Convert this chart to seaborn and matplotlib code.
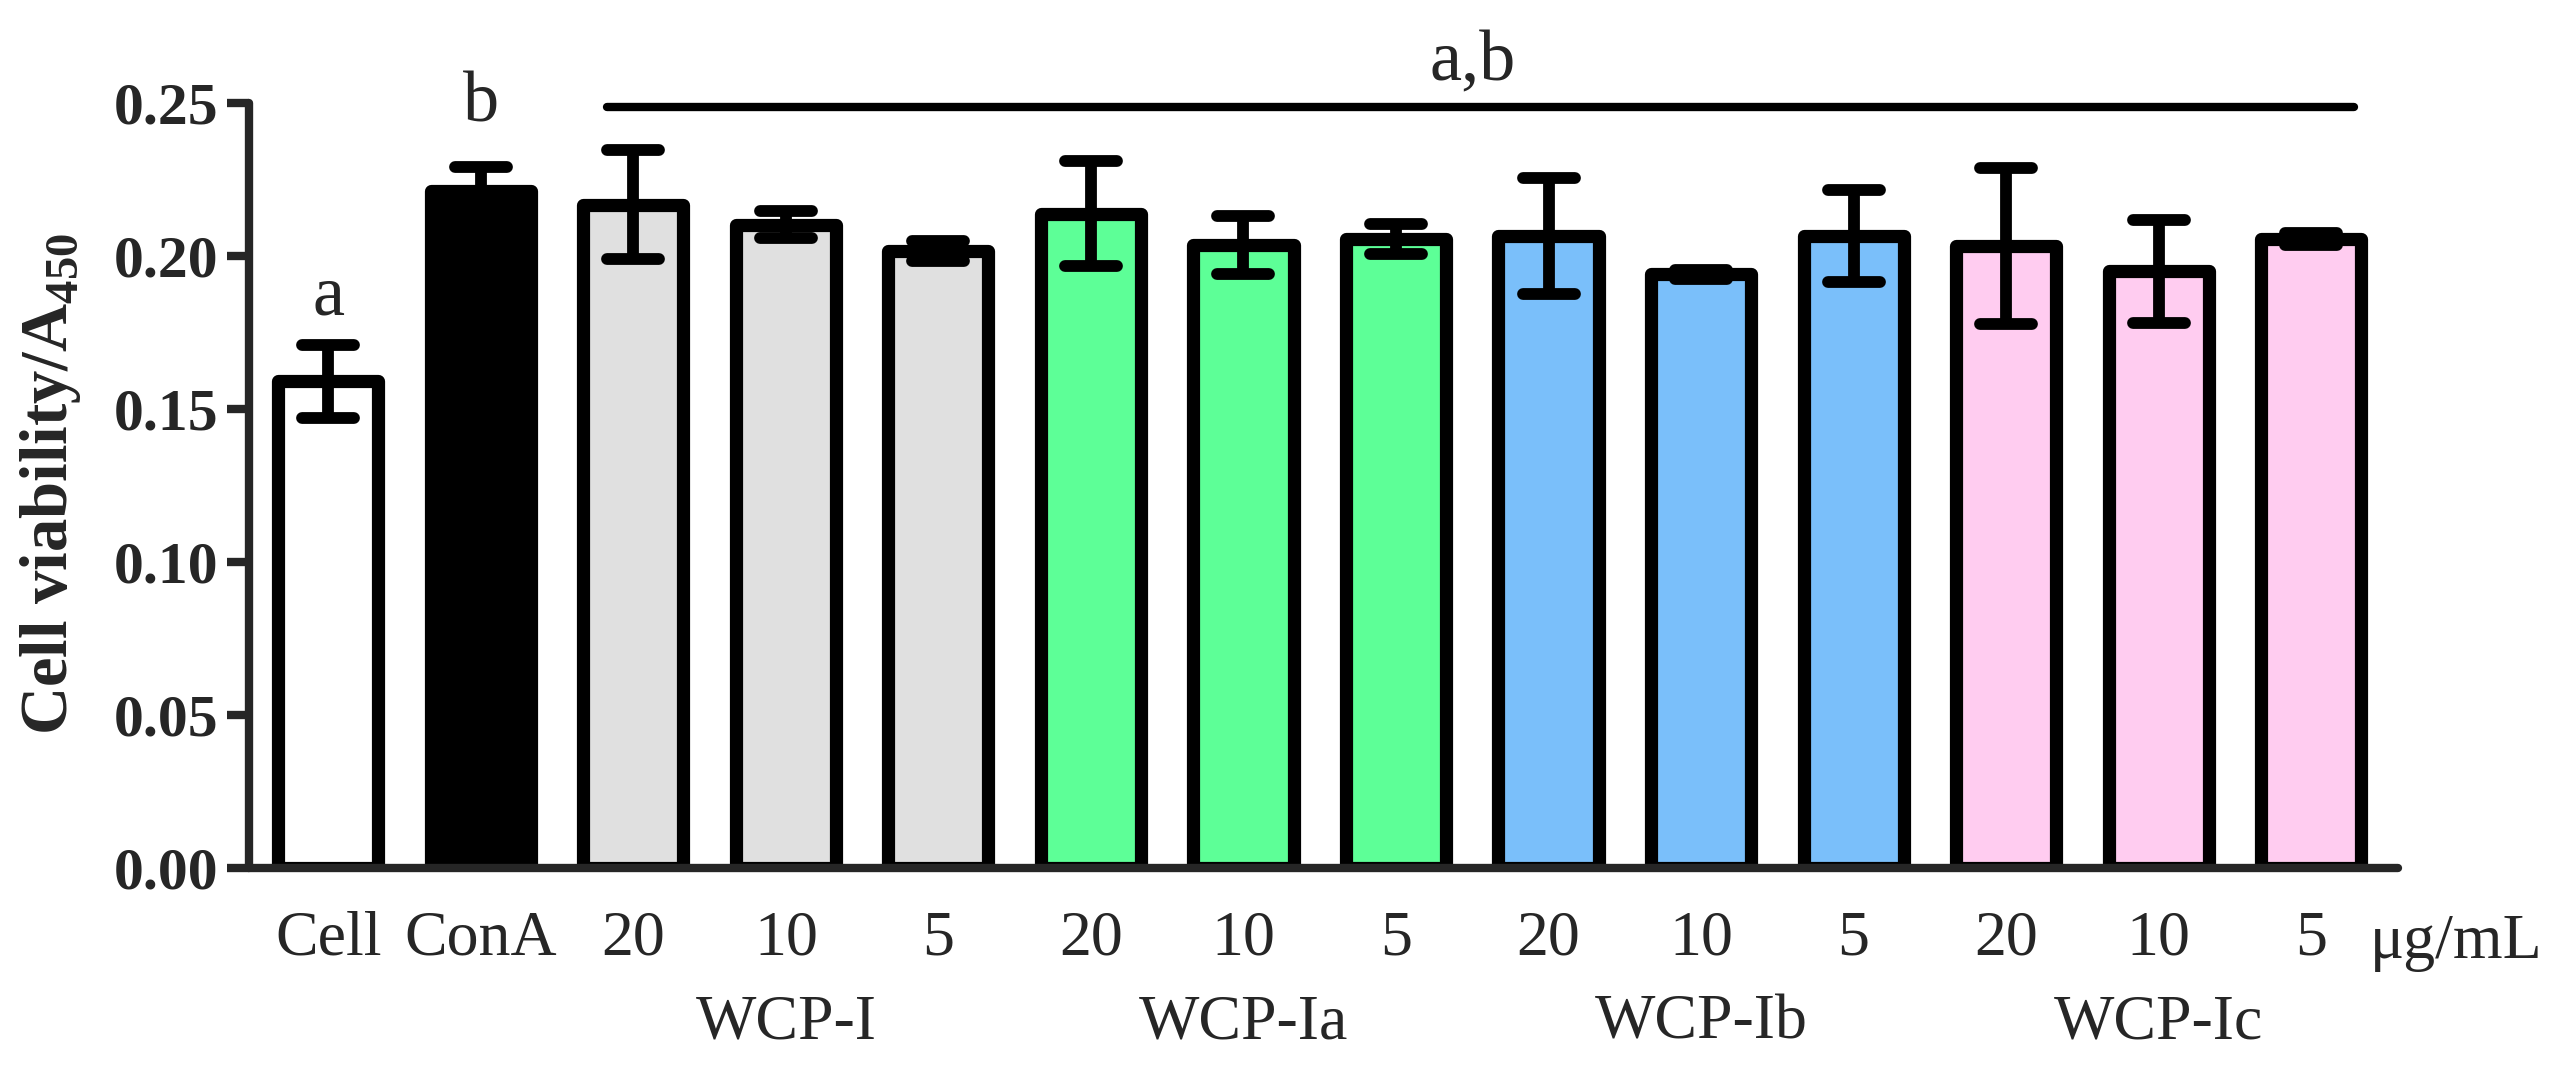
import numpy as np
import pandas as pd
import matplotlib
matplotlib.use("Agg")
import matplotlib.pyplot as plt
import matplotlib.transforms as mtransforms
from matplotlib.markers import MarkerStyle
import seaborn as sns

# values
bar_ids = ["Cell", "ConA", "I-20", "I-10", "I-5", "Ia-20", "Ia-10", "Ia-5",
           "Ib-20", "Ib-10", "Ib-5", "Ic-20", "Ic-10", "Ic-5"]
tick_labels = ["Cell", "ConA", "20", "10", "5", "20", "10", "5",
               "20", "10", "5", "20", "10", "5"]
means = [0.159, 0.2212, 0.2168, 0.2103, 0.2016, 0.2138, 0.2036, 0.2055,
         0.2065, 0.1940, 0.2065, 0.2033, 0.1950, 0.2055]
errs = [0.0120, 0.0080, 0.0178, 0.0043, 0.0032, 0.0172, 0.0095, 0.0050,
        0.0190, 0.0015, 0.0150, 0.0255, 0.0168, 0.0020]
colors = ["#FFFFFF", "#000000", "#E0E0E0", "#E0E0E0", "#E0E0E0",
          "#5DFF97", "#5DFF97", "#5DFF97", "#7ABFFA", "#7ABFFA", "#7ABFFA",
          "#FFCCF0", "#FFCCF0", "#FFCCF0"]
groups = ["WCP-I", "WCP-Ia", "WCP-Ib", "WCP-Ic"]
group_centers = [3, 6, 9, 12]
letters = ["a", "b", "a,b"]
letter_x = [0, 1, 7.5]
letter_y = [0.181, 0.2441, 0.2575]
line_span = [1.826, 13.28]

df = pd.DataFrame({"bar": bar_ids, "mean": means, "err": errs})

sns.set_style("ticks")
plt.rcParams["font.family"] = ["Liberation Serif", "DejaVu Serif"]
plt.rcParams["mathtext.fontset"] = "custom"
plt.rcParams["mathtext.bf"] = "Liberation Serif:bold"
plt.rcParams["mathtext.rm"] = "Liberation Serif"

fig = plt.figure(figsize=(25.68, 10.8), dpi=100)
ax = fig.add_axes([0.097, 0.1963, 0.8368, 0.7083])

sns.barplot(data=df, x="bar", y="mean", hue="bar", palette=colors,
            order=bar_ids, hue_order=bar_ids, legend=False, width=0.656,
            saturation=1, edgecolor="black", linewidth=9.5, ax=ax, zorder=2)

# capsize is half the cap length in matplotlib
eb = ax.errorbar(np.arange(len(bar_ids)), df["mean"], yerr=df["err"],
                 fmt="none", ecolor="black", elinewidth=8.5, capsize=18.5,
                 capthick=8.5, zorder=3)
for cap in eb[1]:
    cap.set_marker(MarkerStyle("_", capstyle="round"))
for coll in eb[2]:
    coll.set_capstyle("butt")
for p in ax.patches:
    p.set_joinstyle("round")

ax.set_xlim(-0.52, 13.57)
ax.set_ylim(0, 0.25)
ax.set_yticks([0, 0.05, 0.10, 0.15, 0.20, 0.25])
ax.set_yticklabels(["0.00", "0.05", "0.10", "0.15", "0.20", "0.25"],
                   fontsize=43, fontweight="bold")
ax.set_xticks(range(len(bar_ids)))
ax.set_xticklabels(tick_labels, fontsize=46)
for lbl in ax.get_xticklabels():
    lbl.set_verticalalignment("baseline")
ax.tick_params(axis="x", length=0, pad=62)
ax.tick_params(axis="y", length=16, width=6, pad=6)

sns.despine(ax=ax)
for side in ["left", "bottom"]:
    ax.spines[side].set_linewidth(6)
    ax.spines[side].set_capstyle("round")

ax.set_xlabel("")
ax.set_ylabel("")
fig.text(0.0261, 0.552, r"Cell viability/A$_{\mathbf{450}}$", fontsize=48,
         fontweight="bold", rotation=90, rotation_mode="anchor",
         ha="center", va="baseline")

# significance letters and bracket line
for txt, lx, ly in zip(letters, letter_x, letter_y):
    ax.text(lx, ly, txt, ha="center", va="baseline", fontsize=52,
            clip_on=False)
ax.plot(line_span, [0.2487, 0.2487], color="black", lw=6,
        solid_capstyle="round", clip_on=False)

# group labels and unit
trans = mtransforms.blended_transform_factory(ax.transData, ax.transAxes)
for name, c in zip(groups, group_centers):
    ax.text(c, -0.223, name, ha="center", va="baseline", fontsize=46,
            transform=trans)
ax.text(13.95, -0.118, "μg/mL", ha="center", va="baseline", fontsize=46,
        transform=trans)

fig.savefig("out.png", dpi=100)
